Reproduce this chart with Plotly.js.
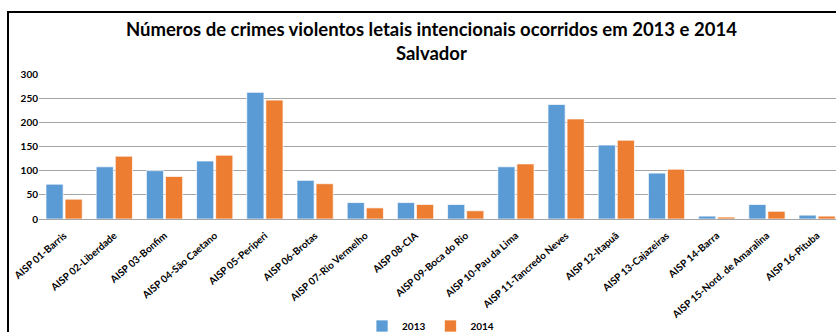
<!DOCTYPE html>
<html>
<head>
<meta charset="utf-8">
<script src="https://cdn.plot.ly/plotly-3.0.1.min.js"></script>
<style>
html,body{margin:0;padding:0;width:836px;height:332px;overflow:hidden;background:#fff;}
#frame{position:absolute;left:7px;top:11px;width:900px;height:400px;border:2px solid #000;box-sizing:border-box;}
#chart{position:absolute;left:0;top:0;width:836px;height:332px;}
</style>
</head>
<body>
<div id="frame"></div>
<div id="chart"></div>
<script>
const categories = [
  "AISP 01-Barris","AISP 02-Liberdade","AISP 03-Bonfim","AISP 04-São Caetano",
  "AISP 05-Periperi","AISP 06-Brotas","AISP 07-Rio Vermelho","AISP 08-CIA",
  "AISP 09-Boca do Rio","AISP 10-Pau da Lima","AISP 11-Tancredo Neves","AISP 12-Itapuã",
  "AISP 13-Cajazeiras","AISP 14-Barra","AISP 15-Nord. de Amaralina","AISP 16-Pituba"
];
const values2013 = [72,108,100,120,262,80,34,34,30,108,237,153,95,6,30,8];
const values2014 = [41,130,88,132,246,73,23,30,17,114,207,163,103,4,16,6];
const tickVals = [0,50,100,150,200,250,300];

const fontFam = "Lato, 'Open Sans', sans-serif";
const traces = [
  {type:'bar', name:'2013', x:categories, y:values2013,
   marker:{color:'#5B9BD5', line:{color:'rgba(255,255,255,0.7)', width:1}}},
  {type:'bar', name:'2014', x:categories, y:values2014,
   marker:{color:'#ED7D31', line:{color:'rgba(255,255,255,0.7)', width:1}}}
];
const layout = {
  width:836, height:332,
  paper_bgcolor:'rgba(0,0,0,0)', plot_bgcolor:'rgba(0,0,0,0)',
  margin:{l:39, r:0, t:74, b:113, pad:0},
  barmode:'group', bargap:0.24, bargroupgap:0.1,
  showlegend:true,
  title:{text:'Números de crimes violentos letais intencionais ocorridos em 2013 e 2014<br>Salvador',
         font:{family:fontFam, size:18.5, color:'#000', weight:'bold'},
         x:0.516, xanchor:'center', xref:'container', y:1-36/332, yanchor:'top', yref:'container'},
  xaxis:{type:'category', range:[-0.5, 15.376], tickangle:-41, ticklabelstandoff:8,
         tickfont:{family:fontFam, size:10, color:'#000', weight:'bold'},
         showgrid:false, zeroline:false, showline:false, ticks:'', automargin:false},
  yaxis:{range:[0,300], tickvals:tickVals, showgrid:true, gridcolor:'#a6a6a6', gridwidth:1,
         zeroline:true, zerolinecolor:'#a6a6a6', zerolinewidth:1,
         tickfont:{family:fontFam, size:10, color:'#000', weight:'bold'},
         showline:false, ticks:'', automargin:false},
  legend:{orientation:'h', x:0.515, xanchor:'center', xref:'container',
          y:6/332, yanchor:'middle', yref:'container',
          font:{family:fontFam, size:10, color:'#000', weight:'bold'},
          itemwidth:30, tracegroupgap:0, bgcolor:'rgba(0,0,0,0)'}
};
Plotly.newPlot('chart', traces, layout, {displayModeBar:false, staticPlot:true});
</script>
</body>
</html>
